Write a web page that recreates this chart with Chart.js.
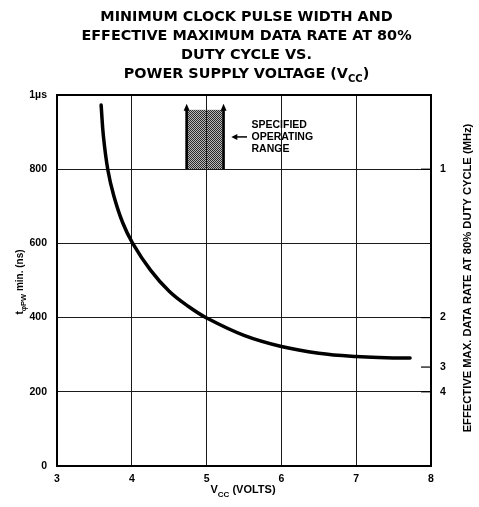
<!DOCTYPE html>
<html>
<head>
<meta charset="utf-8">
<script src="https://cdn.jsdelivr.net/npm/chart.js@4.4.1/dist/chart.umd.min.js"></script>
<style>
  html, body { margin: 0; padding: 0; background: #fff; }
  #wrap { position: relative; width: 479px; height: 507px; overflow: hidden; }
  #title { position: absolute; left: 7px; top: 0; width: 479px; padding-top: 7px; text-align: center;
    font: bold 14.4px "DejaVu Sans", sans-serif; line-height: 19px; color: #000; }
  #title .sub { font-size: 10px; position: relative; top: 4px; }
  canvas { position: absolute; left: 0; top: 0; }
</style>
</head>
<body>
<div id="wrap">
  <canvas id="chart" width="479" height="507"></canvas>
  <div id="title">MINIMUM CLOCK PULSE WIDTH AND<br>EFFECTIVE MAXIMUM DATA RATE AT 80%<br>DUTY CYCLE VS.<br>POWER SUPPLY VOLTAGE (V<span class="sub">CC</span>)</div>
</div>
<script>
// curve
const voltage    = [3.59, 3.62, 3.68, 3.76, 3.88, 4.01, 4.25, 4.5, 4.75, 5.0, 5.5, 6.0, 6.5, 7.0, 7.4, 7.72];
const pulseWidth = [973,  890,  798,  728,  655,  601,  528,  471, 431,  399, 352, 322, 304, 295, 292, 291];

const voltTicks = [3, 4, 5, 6, 7, 8];
const nsTicks   = [0, 200, 400, 600, 800, 1000];
const nsLabels  = ['0', '200', '400', '600', '800', '1\u00b5s'];
const rateTicks = [1, 2, 3, 4];          // MHz; at 80% duty cycle this sits at 800/MHz ns

// specified operating range box
const rangeVolts = [4.72, 5.24];
const rangeNs    = [800, 960];

const FONT = '"Liberation Sans", Arial, sans-serif';

function drawParts(ctx, parts, x, y, size, subSize, drop) {
  let w = 0;
  parts.forEach(p => {
    ctx.font = 'bold ' + (p.sub ? subSize : size) + 'px ' + FONT;
    p.w = ctx.measureText(p.t).width;
    w += p.w;
  });
  let cx = x - w / 2;
  ctx.textAlign = 'left';
  ctx.textBaseline = 'alphabetic';
  parts.forEach(p => {
    ctx.font = 'bold ' + (p.sub ? subSize : size) + 'px ' + FONT;
    ctx.fillText(p.t, cx, y + (p.sub ? drop : 0));
    cx += p.w;
  });
}

function stipple() {
  const c = document.createElement('canvas');
  c.width = 2; c.height = 2;
  const g = c.getContext('2d');
  g.fillStyle = '#b8b8b8'; g.fillRect(0, 0, 2, 2);
  g.fillStyle = '#2a2a2a'; g.fillRect(0, 0, 1, 1); g.fillRect(1, 1, 1, 1);
  return g.createPattern(c, 'repeat');
}

const extras = {
  id: 'extras',
  beforeDraw(chart) {
    const ctx = chart.ctx, xs = chart.scales.x, ys = chart.scales.y;
    if (!xs || !ys) return;
    const l = xs.getPixelForValue(rangeVolts[0]), r = xs.getPixelForValue(rangeVolts[1]);
    const t = ys.getPixelForValue(rangeNs[1]), b = ys.getPixelForValue(rangeNs[0]);
    ctx.save();
    ctx.fillStyle = stipple();
    ctx.fillRect(l, t, r - l, b - t);
    // side lines with arrow heads
    ctx.strokeStyle = '#000';
    ctx.fillStyle = '#000';
    ctx.lineWidth = 2.5;
    [l + 1, r - 1].forEach(x => {
      ctx.beginPath(); ctx.moveTo(x, b); ctx.lineTo(x, t); ctx.stroke();
      ctx.beginPath(); ctx.moveTo(x - 3, t + 1); ctx.lineTo(x, t - 6); ctx.lineTo(x + 3, t + 1); ctx.closePath(); ctx.fill();
    });
    ctx.restore();
  },
  afterDraw(chart) {
    const ctx = chart.ctx, a = chart.chartArea, xs = chart.scales.x, ys = chart.scales.y;
    ctx.save();
    ctx.strokeStyle = '#000';
    ctx.lineWidth = 2;
    ctx.strokeRect(a.left, a.top, a.right - a.left, a.bottom - a.top);

    // inward ticks of the MHz axis
    ctx.lineWidth = 1.2;
    rateTicks.forEach(m => {
      const y = ys.getPixelForValue(800 / m);
      ctx.beginPath(); ctx.moveTo(a.right - 10, y); ctx.lineTo(a.right, y); ctx.stroke();
    });

    ctx.fillStyle = '#000';
    // annotation
    ctx.font = 'bold 10.5px ' + FONT;
    ctx.textAlign = 'left';
    ctx.textBaseline = 'middle';
    const tx = xs.getPixelForValue(5.6);
    ctx.fillText('SPECIFIED', tx, ys.getPixelForValue(920));
    ctx.fillText('OPERATING', tx, ys.getPixelForValue(887));
    ctx.fillText('RANGE', tx, ys.getPixelForValue(853));
    const ay = ys.getPixelForValue(887);
    const ax0 = xs.getPixelForValue(5.33), ax1 = xs.getPixelForValue(5.54);
    ctx.lineWidth = 1.5;
    ctx.beginPath(); ctx.moveTo(ax0 + 4, ay); ctx.lineTo(ax1, ay); ctx.stroke();
    ctx.beginPath(); ctx.moveTo(ax0, ay); ctx.lineTo(ax0 + 6, ay - 3); ctx.lineTo(ax0 + 6, ay + 3); ctx.closePath(); ctx.fill();

    // x axis title
    drawParts(ctx, [{t: 'V'}, {t: 'CC', sub: true}, {t: ' (VOLTS)'}], 243, 493, 11, 8, 4);

    // left axis title
    ctx.save();
    ctx.translate(19.5, 282);
    ctx.rotate(-Math.PI / 2);
    drawParts(ctx, [{t: 't'}, {t: '\u03c6PW', sub: true}, {t: ' min. (ns)'}], 0, 3.5, 10, 7.5, 3);
    ctx.restore();

    // right axis title
    ctx.save();
    ctx.translate(467, 278);
    ctx.rotate(-Math.PI / 2);
    drawParts(ctx, [{t: 'EFFECTIVE MAX. DATA RATE AT 80% DUTY CYCLE (MHz)'}], 0, 4, 11.2, 8, 0);
    ctx.restore();

    ctx.restore();
  }
};

const tickFont = { family: FONT, size: 10.5, weight: 'bold' };

new Chart(document.getElementById('chart'), {
  type: 'scatter',
  data: {
    datasets: [{
      data: voltage.map((v, i) => ({ x: v, y: pulseWidth[i] })),
      showLine: true,
      borderColor: '#000',
      borderWidth: 3.5,
      borderCapStyle: 'round',
      pointRadius: 0,
      tension: 0.4,
      fill: false
    }]
  },
  options: {
    responsive: false,
    animation: false,
    devicePixelRatio: 1,
    layout: { padding: { top: 95, left: 0, right: 0, bottom: 0 } },
    plugins: { legend: { display: false }, tooltip: { enabled: false } },
    scales: {
      x: {
        type: 'linear', min: 3, max: 8,
        afterBuildTicks: s => { s.ticks = voltTicks.map(v => ({ value: v })); },
        ticks: { color: '#000', font: tickFont, padding: 7 },
        grid: { color: '#1a1a1a', lineWidth: 1, drawTicks: false },
        border: { display: false },
        afterFit: s => { s.height = 41; }
      },
      y: {
        type: 'linear', min: 0, max: 1000,
        afterBuildTicks: s => { s.ticks = nsTicks.map(v => ({ value: v })); },
        ticks: {
          color: '#000', font: tickFont, padding: 10,
          callback: v => nsLabels[nsTicks.indexOf(v)]
        },
        grid: { color: '#1a1a1a', lineWidth: 1, drawTicks: false },
        border: { display: false },
        afterFit: s => { s.width = 57; }
      },
      y2: {
        type: 'linear', position: 'right', min: 0, max: 1000,
        afterBuildTicks: s => { s.ticks = rateTicks.map(m => ({ value: 800 / m })); },
        ticks: {
          color: '#000', font: tickFont, padding: 9,
          callback: v => String(Math.round(800 / v))
        },
        grid: { display: false, drawTicks: false },
        border: { display: false },
        afterFit: s => { s.width = 48; }
      }
    }
  },
  plugins: [extras]
});
</script>
</body>
</html>
